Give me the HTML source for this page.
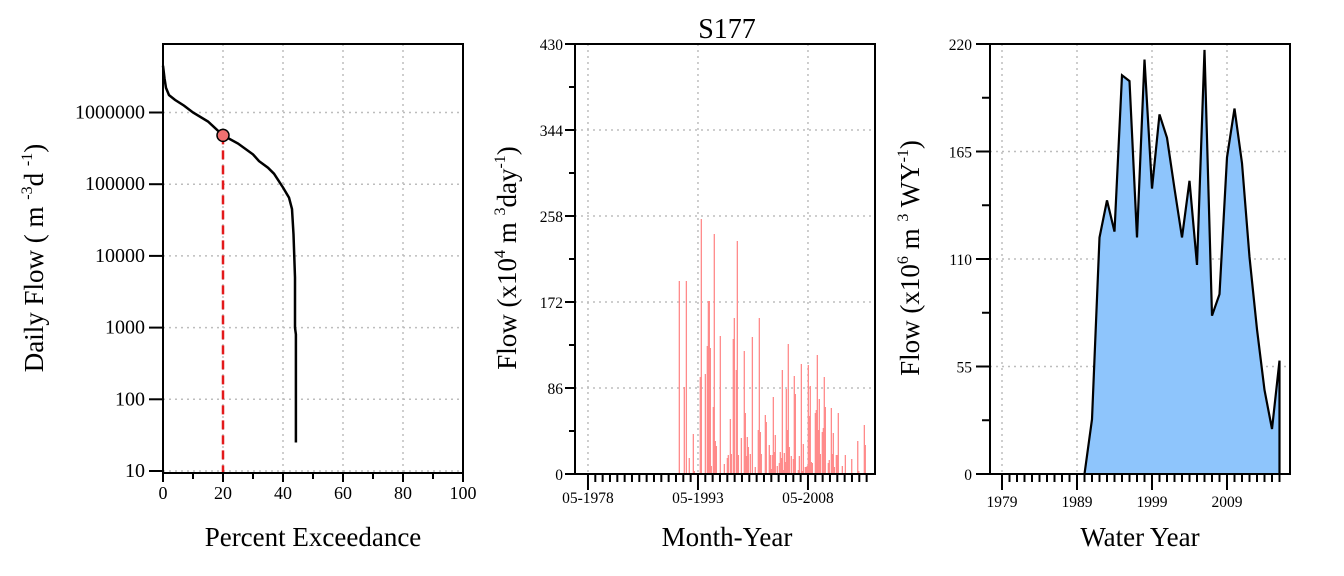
<!DOCTYPE html>
<html><head><meta charset="utf-8"><style>
body{margin:0;background:#fff}
svg{display:block;font-family:"Liberation Serif",serif}
</style></head><body>
<svg id="s" width="1344" height="576" viewBox="0 0 1344 576" xmlns="http://www.w3.org/2000/svg"></svg>
<script>
// ---- Left panel: flow duration curve ----
const fdcPercent=[0,0.5,1,2,4,7,10,15,20,25,30,32,35,37,40,42,43,43.5,44,44,44.3,44.3];
const fdcFlow=[4.5e6,3e6,2.2e6,1.75e6,1.5e6,1.25e6,1.0e6,7.5e5,4.8e5,3.7e5,2.6e5,2.1e5,1.7e5,1.4e5,9e4,6.5e4,4.5e4,2e4,5000,1000,800,25];
const fdcMarker=[20,4.8e5];
const fdcXTicks=[0,20,40,60,80,100];
const fdcYTicks=[10,100,1000,10000,100000,1000000];
// ---- Middle panel: daily flow bars ----
const barDates=[1990.78,1991.46,1991.74,1992.14,1992.69,1992.83,1993.64,1993.78,1994.33,1994.60,1994.74,1994.87,1995.01,1995.14,1995.42,1995.55,1995.69,1995.83,1996.37,1996.92,1997.33,1997.46,1997.74,1997.87,1998.14,1998.28,1998.55,1998.69,1998.83,1999.24,1999.64,1999.78,1999.92,2000.05,2000.19,2000.46,2000.74,2001.14,2001.55,2001.69,2001.83,2001.96,2002.51,2002.64,2003.05,2003.19,2003.33,2003.46,2003.60,2003.73,2003.87,2004.14,2004.42,2004.55,2004.69,2004.83,2004.96,2005.10,2005.23,2005.37,2005.51,2005.64,2005.78,2006.05,2006.33,2006.46,2006.60,2007.01,2007.15,2007.42,2007.55,2007.69,2007.96,2008.10,2008.23,2008.37,2008.51,2008.64,2008.78,2008.92,2009.33,2009.46,2009.60,2009.73,2009.87,2010.01,2010.28,2010.42,2010.55,2010.69,2011.10,2011.23,2011.51,2011.64,2011.78,2011.92,2012.19,2012.33,2012.46,2013.01,2013.42,2014.29,2015.11,2015.25,2016.01,2016.14];
const barValues=[193,87,193,16,40,3,97,255,100,128,173,173,126,8,67,240,33,28,138,10,16,19,55,20,135,156,104,233,19,36,123,61,18,37,27,20,137,7,44,156,42,20,59,52,29,19,5,19,77,22,39,8,11,22,16,104,4,21,12,85,44,130,27,18,15,98,80,4,18,110,3,30,7,7,8,109,58,88,12,11,61,64,119,44,75,20,42,46,97,67,11,14,66,20,41,7,19,19,61,8,19,15,33,3,49,29];
const midYTicks=[0,86,172,258,344,430];
const midXTicks=[1978.33,1993.33,2008.33];
const midXLabels=["05-1978","05-1993","05-2008"];
// ---- Right panel: annual flow ----
const wyYears=[1990,1991,1992,1993,1994,1995,1996,1997,1998,1999,2000,2001,2002,2003,2004,2005,2006,2007,2008,2009,2010,2011,2012,2013,2014,2015,2016];
const wyFlow=[0,28,121,140,124,204,201,121,212,146,184,172,146,121,150,107,217,81,92,162,187,159,111,74,43,23,58];
const wyYTicks=[0,55,110,165,220];
const wyXTicks=[1979,1989,1999,2009];

const svg=document.getElementById('s');
const NS='http://www.w3.org/2000/svg';
function mk(tag,attrs,parent,txt){const e=document.createElementNS(NS,tag);for(const k in attrs)e.setAttribute(k,attrs[k]);if(txt!==undefined)e.textContent=txt;(parent||svg).appendChild(e);return e;}
const GRID={stroke:'#bdbdbd','stroke-width':1.5,'stroke-dasharray':'2,4'};
const LF=20, TF=15.5, AF=27;

// ===== LEFT =====
const L={x0:163,x1:463,y0:44,y1:473};
const lx=p=>L.x0+(p/100)*(L.x1-L.x0);
const ly=v=>471-(Math.log10(v)-1)*71.7;
const gL=mk('g',{});


fdcXTicks.slice(1,5).forEach(t=>{const l=mk('line',Object.assign({x1:lx(t),x2:lx(t),y1:L.y0,y2:L.y1},GRID),gL);});
fdcYTicks.forEach(t=>{const l=mk('line',Object.assign({x1:L.x0,x2:L.x1,y1:ly(t),y2:ly(t)},GRID),gL);});
let d='';fdcPercent.forEach((p,i)=>{d+=(i?'L':'M')+lx(p).toFixed(1)+','+ly(fdcFlow[i]).toFixed(1);});
const cur=mk('path',{d:d,fill:'none',stroke:'#000','stroke-width':2.5},gL);

const dl=mk('line',{x1:lx(fdcMarker[0]),x2:lx(fdcMarker[0]),y1:ly(fdcMarker[1]),y2:L.y1,stroke:'#e31a1c','stroke-width':2.5,'stroke-dasharray':'9,6'},gL);

const mc=mk('circle',{cx:lx(fdcMarker[0]),cy:ly(fdcMarker[1]),r:6,fill:'#f07070',stroke:'#000','stroke-width':1.5},gL);

const bL=mk('rect',{x:L.x0,y:L.y0,width:L.x1-L.x0,height:L.y1-L.y0,fill:'none',stroke:'#000','stroke-width':2},gL);

for(let t=0;t<=100;t+=10){const maj=t%20===0;mk('line',{x1:lx(t),x2:lx(t),y1:L.y1,y2:L.y1+(maj?9:6),stroke:'#000','stroke-width':2},gL);}
fdcXTicks.forEach(t=>{const e=mk('text',{x:lx(t),y:499,'font-size':LF-2,'text-anchor':'middle'},gL,String(t));});
fdcYTicks.forEach(t=>{mk('line',{x1:L.x0-14,x2:L.x0,y1:ly(t),y2:ly(t),stroke:'#000','stroke-width':2},gL);const e=mk('text',{x:L.x0-18,y:ly(t)+6,'font-size':LF,'text-anchor':'end'},gL,String(t));});
let e=mk('text',{x:313,y:546,'font-size':AF,'text-anchor':'middle'},gL,'Percent Exceedance');
e=mk('text',{transform:'translate(43,258) rotate(-90)','font-size':AF,'text-anchor':'middle'},gL);
e.innerHTML='Daily Flow ( m <tspan font-size="16" dy="-11">-3</tspan><tspan dy="11">d </tspan><tspan font-size="16" dy="-11">-1</tspan><tspan dy="11">)</tspan>';


// ===== MIDDLE =====
const M={x0:575,x1:875,y0:44,y1:474,d0:1976.56,d1:2017.47,vmax:430};
const mx=t=>M.x0+(t-M.d0)/(M.d1-M.d0)*(M.x1-M.x0);
const my=v=>M.y1-v/M.vmax*(M.y1-M.y0);
const gM=mk('g',{});

midXTicks.forEach(t=>{const l=mk('line',Object.assign({x1:mx(t),x2:mx(t),y1:M.y0,y2:M.y1},GRID),gM);});
midYTicks.slice(1,5).forEach(t=>{const l=mk('line',Object.assign({x1:M.x0,x2:M.x1,y1:my(t),y2:my(t)},GRID),gM);});
barDates.forEach((t,i)=>{const b=mk('rect',{x:mx(t)-0.6,y:my(barValues[i]),width:1.3,height:M.y1-my(barValues[i]),fill:'#ff8a8a'},gM);});
const bM=mk('path',{d:`M${M.x0},${M.y0}H${M.x1}V${M.y1}H${M.x0}Z`,fill:'none',stroke:'#000','stroke-width':2},gM);

for(let k=0;k<=38;k++){const t=1978.33+k;const maj=(k%15===0);mk('line',{x1:mx(t),x2:mx(t),y1:M.y1,y2:M.y1+(maj?16:8),stroke:'#000','stroke-width':2},gM);}
midXTicks.forEach((t,i)=>{const e=mk('text',{x:mx(t),y:503,'font-size':TF,'text-anchor':'middle'},gM,midXLabels[i]);});
for(let v=0;v<=430;v+=43){const maj=v%86===0;mk('line',{x1:M.x0-(maj?10:6),x2:M.x0,y1:my(v),y2:my(v),stroke:'#000','stroke-width':2},gM);}
midYTicks.forEach(t=>{const e=mk('text',{x:M.x0-12,y:my(t)+6,'font-size':TF,'text-anchor':'end'},gM,String(t));});
e=mk('text',{x:727,y:38,'font-size':28,'text-anchor':'middle'},gM,'S177');
e=mk('text',{x:727,y:546,'font-size':AF,'text-anchor':'middle'},gM,'Month-Year');
e=mk('text',{transform:'translate(516,258) rotate(-90)','font-size':AF,'text-anchor':'middle'},gM);
e.innerHTML='Flow (x10<tspan font-size="16" dy="-11">4</tspan><tspan dy="11"> m </tspan><tspan font-size="16" dy="-11">3</tspan><tspan dy="11">day</tspan><tspan font-size="16" dy="-11">-1</tspan><tspan dy="11">)</tspan>';


// ===== RIGHT =====
const R={x0:990,x1:1290,y0:44,y1:474,d0:1977.4,d1:2017.4,vmax:220};
const rx=t=>R.x0+(t-R.d0)/(R.d1-R.d0)*(R.x1-R.x0);
const ry=v=>R.y1-v/R.vmax*(R.y1-R.y0);
const gR=mk('g',{});

wyXTicks.forEach(t=>{const l=mk('line',Object.assign({x1:rx(t),x2:rx(t),y1:R.y0,y2:R.y1},GRID),gR);});
wyYTicks.slice(1,4).forEach(t=>{const l=mk('line',Object.assign({x1:R.x0,x2:R.x1,y1:ry(t),y2:ry(t)},GRID),gR);});
let ld='';wyYears.forEach((y,i)=>{ld+=(i?'L':'M')+rx(y).toFixed(1)+','+ry(wyFlow[i]).toFixed(1);});
const last=wyYears[wyYears.length-1];
const area=mk('path',{d:ld+`L${rx(last)},${ry(0)}L${rx(wyYears[0])},${ry(0)}Z`,fill:'#8ec5fc'},gR);

const ln=mk('path',{d:ld+`L${rx(last)},${ry(0)}`,fill:'none',stroke:'#000','stroke-width':2.2},gR);

const bR=mk('rect',{x:R.x0,y:R.y0,width:R.x1-R.x0,height:R.y1-R.y0,fill:'none',stroke:'#000','stroke-width':2},gR);

for(let y=1979;y<=2016;y++){const maj=(y-1979)%10===0;mk('line',{x1:rx(y),x2:rx(y),y1:R.y1,y2:R.y1+(maj?16:8),stroke:'#000','stroke-width':2},gR);}
wyXTicks.forEach(t=>{const e=mk('text',{x:rx(t),y:507,'font-size':TF,'text-anchor':'middle'},gR,String(t));});
for(let v=0;v<=220;v+=27.5){const maj=v%55===0;mk('line',{x1:R.x0-(maj?14:8),x2:R.x0,y1:ry(v),y2:ry(v),stroke:'#000','stroke-width':2},gR);}
wyYTicks.forEach(t=>{const e=mk('text',{x:R.x0-18,y:ry(t)+6,'font-size':TF,'text-anchor':'end'},gR,String(t));});
e=mk('text',{x:1140,y:546,'font-size':AF,'text-anchor':'middle'},gR,'Water Year');
e=mk('text',{transform:'translate(919,258) rotate(-90)','font-size':AF,'text-anchor':'middle'},gR);
e.innerHTML='Flow (x10<tspan font-size="16" dy="-11">6</tspan><tspan dy="11"> m </tspan><tspan font-size="16" dy="-11">3</tspan><tspan dy="11"> WY</tspan><tspan font-size="16" dy="-11">-1</tspan><tspan dy="11">)</tspan>';

</script>
</body></html>
